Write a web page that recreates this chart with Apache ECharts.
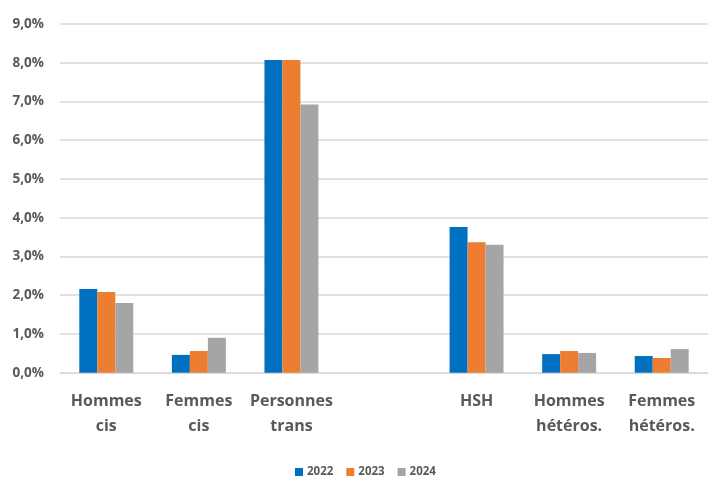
<!DOCTYPE html>
<html><head><meta charset="utf-8">
<script src="https://cdn.jsdelivr.net/npm/echarts@6/dist/echarts.min.js"></script>
<style>html,body{margin:0;padding:0;background:#fff}#c{width:720px;height:483px}</style>
</head><body><div id="c"></div>
<script>
var categories = ['Hommes\ncis', 'Femmes\ncis', 'Personnes\ntrans', '', 'HSH', 'Hommes\nhétéros.', 'Femmes\nhétéros.'];
var years = ['2022', '2023', '2024'];
var v2022 = [2.16, 0.46, 8.07, null, 3.76, 0.48, 0.43];
var v2023 = [2.08, 0.56, 8.07, null, 3.37, 0.56, 0.38];
var v2024 = [1.80, 0.90, 6.92, null, 3.30, 0.51, 0.61];
var yTicks = [0, 1, 2, 3, 4, 5, 6, 7, 8, 9];
var colors = ['#0070C0', '#ED7D31', '#A5A5A5'];
var font = '"Open Sans", Lato, sans-serif';
var chart = echarts.init(document.getElementById('c'));
chart.setOption({
  animation: false,
  grid: { left: 60, right: 12, top: 24, bottom: 110.3, containLabel: false },
  legend: {
    data: years, left: 290, bottom: 0, itemWidth: 8, itemHeight: 8, itemGap: 13,
    icon: 'rect',
    textStyle: { color: '#595959', fontSize: 11.5, fontWeight: 'bold', fontFamily: font, padding: [0, 0, 0, -1] }
  },
  xAxis: {
    type: 'category', data: categories,
    axisLine: { lineStyle: { color: '#d9d9d9', width: 1.5 } },
    axisTick: { show: false },
    axisLabel: { color: '#595959', fontSize: 16, fontWeight: 'bold', fontFamily: font, lineHeight: 25, margin: 16, interval: 0 }
  },
  yAxis: {
    type: 'value', min: yTicks[0], max: yTicks[yTicks.length - 1], interval: 1,
    axisLine: { show: false }, axisTick: { show: false },
    splitLine: { lineStyle: { color: '#d9d9d9', width: 1.5 } },
    axisLabel: {
      color: '#595959', fontSize: 13.5, fontWeight: 'bold', fontFamily: font, margin: 16,
      formatter: function (v) { return v.toFixed(1).replace('.', ',') + '%'; }
    }
  },
  series: [v2022, v2023, v2024].map(function (d, i) {
    return { name: years[i], type: 'bar', data: d, itemStyle: { color: colors[i] },
      barGap: '0%', barCategoryGap: '41.7%' };
  })
});
</script></body></html>
